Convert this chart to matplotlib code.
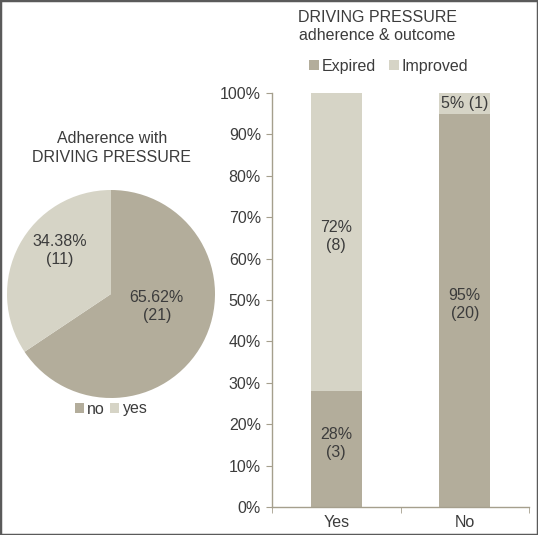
"""Driving pressure adherence: pie of adherence plus stacked outcome bars."""

import matplotlib
matplotlib.use("Agg")
import matplotlib.pyplot as plt
from matplotlib.patches import Rectangle

plt.rcParams["font.family"] = ["Liberation Sans", "DejaVu Sans"]

# --- data ---------------------------------------------------------------
pie_labels = ["no", "yes"]
pie_counts = [21, 11]
pie_pct_text = ["65.62%", "34.38%"]

bar_groups = ["Yes", "No"]
expired_pct = [28, 95]
improved_pct = [72, 5]
expired_n = [3, 20]
improved_n = [8, 1]

C_DARK = "#b3ad9b"
C_LIGHT = "#d6d4c6"
TXT = "#3c3c3c"
AXC = "#a59f8d"
FS = 11.5

W, H = 538, 535
fig = plt.figure(figsize=(W / 100, H / 100), dpi=100)


def px(x, y):
    """pixel (from top-left) -> figure fraction"""
    return x / W, 1 - y / H


# --- pie ----------------------------------------------------------------
pie_ax = fig.add_axes([7 / W, 1 - 398 / H, 208 / W, 208 / H])
wedges, _ = pie_ax.pie(pie_counts, colors=[C_DARK, C_LIGHT], startangle=90,
                       counterclock=False, radius=1,
                       wedgeprops=dict(linewidth=0))
pie_ax.set_xlim(-1, 1)
pie_ax.set_ylim(-1, 1)
pie_ax.set_aspect("equal")
pie_ax.axis("off")
pie_ax.text(0.44, -0.12, f"{pie_pct_text[0]}\n({pie_counts[0]})",
            ha="center", va="center", fontsize=FS, color=TXT, linespacing=1.25)
pie_ax.text(-0.49, 0.42, f"{pie_pct_text[1]}\n({pie_counts[1]})",
            ha="center", va="center", fontsize=FS, color=TXT, linespacing=1.25)

fig.text(*px(112, 148), "Adherence with\nDRIVING PRESSURE", ha="center",
         va="center", fontsize=FS, color=TXT, linespacing=1.3)
fig.legend(wedges, pie_labels, loc="center", bbox_to_anchor=px(111, 409),
           ncol=2, frameon=False, fontsize=FS, handlelength=0.6,
           handleheight=0.6, handletextpad=0.2, columnspacing=0.3,
           labelcolor=TXT)

# --- stacked bars ---------------------------------------------------------
ax = fig.add_axes([272 / W, 1 - 507 / H, 257 / W, 414 / H])
x = list(range(len(bar_groups)))
b1 = ax.bar(x, expired_pct, width=0.4, color=C_DARK, label="Expired")
b2 = ax.bar(x, improved_pct, width=0.4, bottom=expired_pct, color=C_LIGHT,
            label="Improved")


def seg_label(xpos, ypos, s):
    ax.annotate(s, (xpos, ypos), xytext=(0, 4), textcoords="offset points",
                ha="center", va="center", fontsize=FS, color=TXT,
                linespacing=1.25)


for i in x:
    seg_label(i, expired_pct[i] / 2, f"{expired_pct[i]}%\n({expired_n[i]})")
    mid = expired_pct[i] + improved_pct[i] / 2
    if improved_pct[i] >= 10:
        seg_label(i, mid, f"{improved_pct[i]}%\n({improved_n[i]})")
    else:
        ax.text(i, mid, f"{improved_pct[i]}% ({improved_n[i]})", ha="center",
                va="center", fontsize=FS, color=TXT)

ax.set_xlim(-0.5, 1.5)
ax.set_ylim(0, 100)
ax.set_yticks(range(0, 101, 10))
ax.set_yticklabels([f"{v}%" for v in range(0, 101, 10)])
ax.set_xticks(x)
ax.set_xticklabels(bar_groups)
ax.set_xticks([-0.5, 0.5, 1.5], minor=True)
ax.tick_params(axis="x", which="major", length=0, pad=6, labelsize=FS,
               labelcolor=TXT)
ax.tick_params(axis="x", which="minor", length=4, color=AXC)
ax.tick_params(axis="y", length=4, color=AXC, labelsize=FS, labelcolor=TXT,
               pad=4)
for sp in ("top", "right"):
    ax.spines[sp].set_visible(False)
for sp in ("left", "bottom"):
    ax.spines[sp].set_color(AXC)
    ax.spines[sp].set_linewidth(1.0)

fig.text(*px(377, 26), "DRIVING PRESSURE\nadherence & outcome", ha="center",
         va="center", fontsize=FS, color=TXT, linespacing=1.25)
fig.legend([b1, b2], ["Expired", "Improved"], loc="center",
           bbox_to_anchor=px(389, 66), ncol=2, frameon=False, fontsize=FS,
           handlelength=0.6, handleheight=0.6, handletextpad=0.2,
           columnspacing=0.8, labelcolor=TXT)

# frame around the whole figure
fig.patches.append(Rectangle((0, 0), 1, 1, transform=fig.transFigure,
                             fill=False, edgecolor="#5a5a5a", linewidth=2.5))

fig.savefig("out.png", dpi=100)
plt.close(fig)
